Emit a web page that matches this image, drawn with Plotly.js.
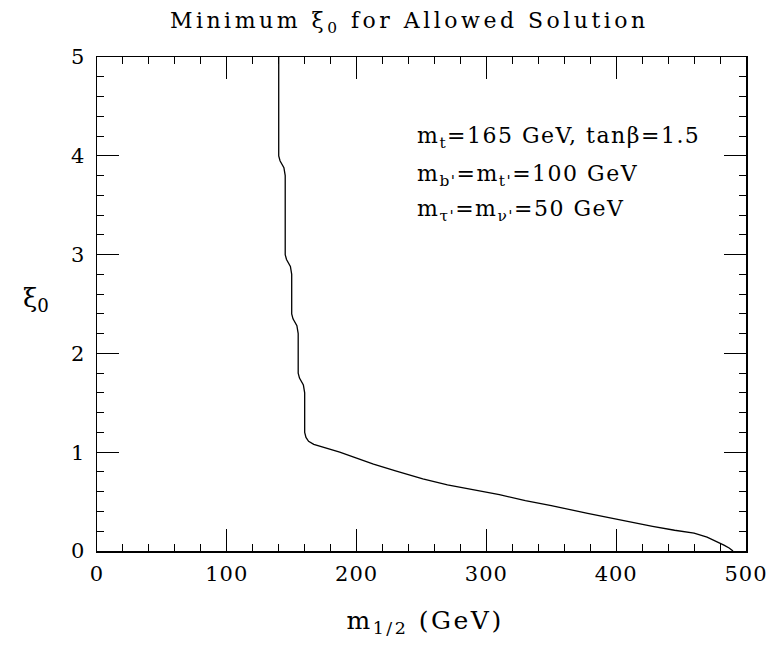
<!DOCTYPE html>
<html>
<head>
<meta charset="utf-8">
<script src="https://cdn.plot.ly/plotly-3.0.1.min.js"></script>
<style>
html,body{margin:0;padding:0;background:#fff;}
#chart{width:768px;height:654px;}
.gtitle{letter-spacing:3.5px;}
.xtick text,.ytick text{letter-spacing:1px;}
.annotation[data-index="0"] text,.annotation[data-index="1"] text,.annotation[data-index="2"] text{letter-spacing:1.5px;}
.annotation[data-index="4"] text{letter-spacing:2.5px;}
</style>
</head>
<body>
<div id="chart"></div>
<script>
// m_1/2 (GeV) values along the boundary curve
const m12 = [140, 140, 141, 144, 145, 145, 146, 149, 150, 150, 151, 154, 155, 155, 156, 159, 160, 160, 161, 163, 167, 175, 187, 200, 213, 230, 251, 270, 290, 310, 330, 350, 378, 400, 428, 445, 460, 470, 477, 483, 487, 490];
// minimum xi_0 values
const xi0 = [5.0, 4.0, 3.95, 3.88, 3.8, 3.0, 2.95, 2.88, 2.8, 2.4, 2.35, 2.28, 2.2, 1.8, 1.75, 1.68, 1.6, 1.2, 1.15, 1.11, 1.08, 1.05, 1.0, 0.94, 0.88, 0.81, 0.73, 0.67, 0.62, 0.57, 0.51, 0.46, 0.38, 0.32, 0.25, 0.21, 0.18, 0.14, 0.10, 0.06, 0.03, 0.0];

const xTicks = [0, 100, 200, 300, 400, 500];
const yTicks = [0, 1, 2, 3, 4, 5];
const infoLines = [
  "m<sub>t</sub>=165 GeV, tanβ=1.5",
  "m<sub>b'</sub>=m<sub>t'</sub>=100 GeV",
  "m<sub>τ'</sub>=m<sub>ν'</sub>=50 GeV"
];
const infoY = [4.19, 3.8, 3.45];

const font = "DejaVu Serif, Liberation Serif, serif";

const axisCommon = {
  showgrid: false, zeroline: false, showline: true, linecolor: '#000', linewidth: 1.5,
  mirror: 'ticks', ticks: 'inside', ticklen: 22, tickwidth: 1.2, tickcolor: '#000',
  tickfont: {family: font, size: 21, color: '#000'}
};

const data = [{
  x: m12, y: xi0, type: 'scatter', mode: 'lines',
  line: {color: '#000', width: 1.3}, hoverinfo: 'skip'
}];

const annotations = infoLines.map((t, i) => ({
  x: 245, y: infoY[i], xref: 'x', yref: 'y', text: t, showarrow: false, align: 'left',
  xanchor: 'left', yanchor: 'middle', font: {family: font, size: 22, color: '#000'}
}));
annotations.push({
  x: -0.094, y: 2.55, xref: 'paper', yref: 'y', text: 'ξ<sub>0</sub>', showarrow: false,
  xanchor: 'center', yanchor: 'middle', font: {family: font, size: 26, color: '#000'}
});
annotations.push({
  x: 0.505, y: -0.1437, xref: 'paper', yref: 'paper', text: 'm<sub>1/2</sub> (GeV)', showarrow: false,
  xanchor: 'center', yanchor: 'middle', font: {family: font, size: 25, color: '#000'}
});

const layout = {
  width: 768, height: 654,
  margin: {l: 97, r: 22, t: 57, b: 103},
  paper_bgcolor: '#fff', plot_bgcolor: '#fff',
  showlegend: false,
  title: {text: 'Minimum ξ<sub>0</sub> for Allowed Solution', x: 0.533, xanchor: 'center', y: 0.969, yanchor: 'middle',
          font: {family: font, size: 22, color: '#000'}},
  xaxis: Object.assign({}, axisCommon, {
    range: [0, 500], tickvals: xTicks, ticktext: xTicks.map(String), ticklabelstandoff: 3,
    minor: {dtick: 20, tick0: 0, ticks: 'inside', ticklen: 7, tickwidth: 1, tickcolor: '#000'}
  }),
  yaxis: Object.assign({}, axisCommon, {
    range: [0, 5], tickvals: yTicks, ticktext: yTicks.map(String), ticklabelstandoff: 6,
    minor: {dtick: 0.2, tick0: 0, ticks: 'inside', ticklen: 7, tickwidth: 1, tickcolor: '#000'}
  }),
  annotations: annotations
};

Plotly.newPlot('chart', data, layout, {displayModeBar: false, staticPlot: true});
</script>
</body>
</html>
